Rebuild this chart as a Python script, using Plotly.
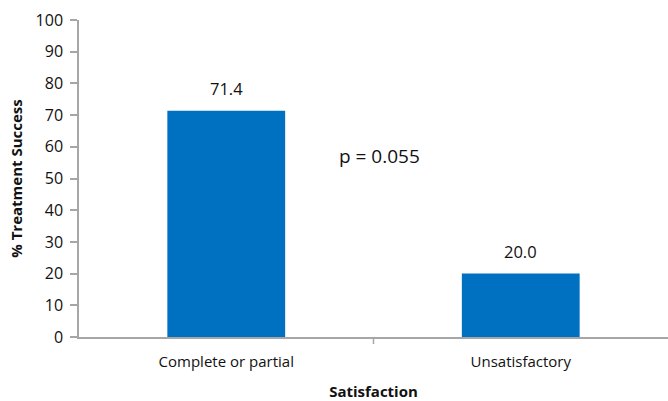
import plotly.graph_objects as go

categories = ["Complete or partial", "Unsatisfactory"]
values = [71.4, 20.0]
value_labels = ["71.4", "20.0"]
y_ticks = list(range(0, 101, 10))
p_text = "p = 0.055"

FONT = "Open Sans"
AXIS_COL = "#A6A6A6"

fig = go.Figure()
fig.add_trace(go.Bar(
    x=categories, y=values, width=0.4,
    marker=dict(color="#0070C0", line=dict(width=0)),
))
for c, v, t in zip(categories, values, value_labels):
    fig.add_annotation(x=c, y=v, xref="x", yref="y", text=t, showarrow=False,
                       yanchor="bottom", yshift=9,
                       font=dict(size=16.5, color="#111111", family=FONT))
fig.add_annotation(x=0.52, y=57, xref="x", yref="y", text=p_text,
                   showarrow=False, font=dict(size=19, color="#111111", family=FONT))
fig.update_layout(
    width=668, height=401,
    margin=dict(l=79, r=0, t=20, b=64),
    paper_bgcolor="white", plot_bgcolor="white",
    showlegend=False,
    font=dict(family=FONT, color="#111111"),
    xaxis=dict(
        range=[-0.5, 1.5],
        showline=True, linecolor=AXIS_COL, linewidth=1.5,
        ticks="", tickfont=dict(size=15), ticklabelstandoff=10,
        title=dict(text="<b>Satisfaction</b>", font=dict(size=15), standoff=19),
    ),
    yaxis=dict(
        range=[0, 100], tickvals=y_ticks, showgrid=False, zeroline=False,
        showline=True, linecolor=AXIS_COL, linewidth=1.5,
        ticks="outside", ticklen=7, tickcolor=AXIS_COL, tickwidth=1.5,
        tickfont=dict(size=16), ticklabelstandoff=4,
        title=dict(text="<b>% Treatment Success</b>", font=dict(size=15), standoff=9),
    ),
)
fig.add_shape(type="line", xref="x", yref="paper", x0=0.5, x1=0.5, y0=0, y1=-0.022,
              line=dict(color=AXIS_COL, width=1.5))
fig.write_html("out.html")
